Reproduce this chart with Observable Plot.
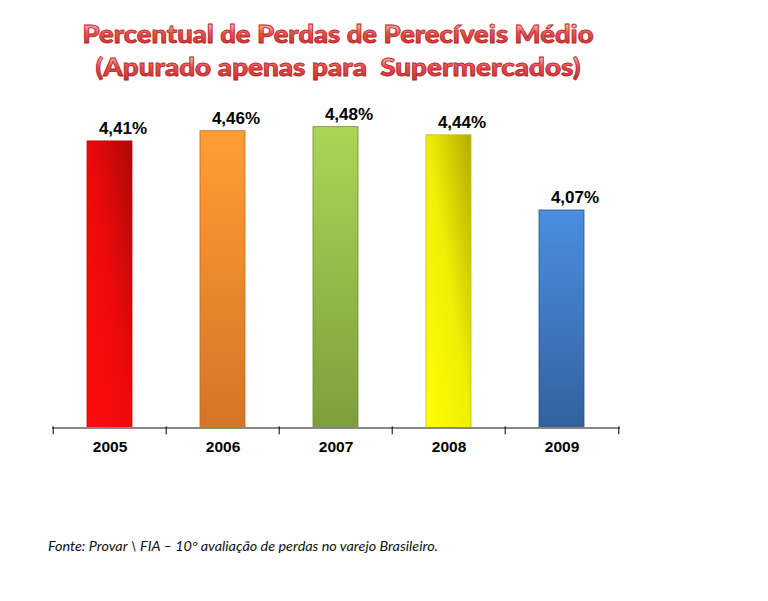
<!DOCTYPE html>
<html><head><meta charset="utf-8">
<script src="https://cdn.jsdelivr.net/npm/d3@7"></script>
<script src="https://cdn.jsdelivr.net/npm/@observablehq/plot@0.6"></script>
<style>
body{margin:0;background:#fff;width:768px;height:601px;overflow:hidden;}
svg{display:block;overflow:visible}
</style></head><body>
<div id="title"></div><div id="chart"></div><div id="caption"></div>
<script>
// ---- data ----
const years = ["2005", "2006", "2007", "2008", "2009"];
const values = [4.41, 4.46, 4.48, 4.44, 4.07];
const valueLabels = ["4,41%", "4,46%", "4,48%", "4,44%", "4,07%"];
const titleLines = ["Percentual de Perdas de Perecíveis Médio", "(Apurado apenas para  Supermercados)"];
const sourceText = "Fonte: Provar \\ FIA \u2013 10\u00ba avaliação de perdas no varejo Brasileiro.";
const yDomain = [3, 4.6];

// ---- styles ----
const barStyles = {
  "2005": {v: [0, 1, 1, 0], stops: [[0, "#ff0c0c"], [0.5, "#ee0a0a"], [1, "#ad0808"]], stroke: "#c00a0a"},
  "2006": {v: [0, 0, 0, 1], stops: [[0, "#ff9d35"], [1, "#d67426"]], stroke: "#bf6824"},
  "2007": {v: [0, 0, 0, 1], stops: [[0, "#acd555"], [1, "#7e9e3d"]], stroke: "#6b8a33"},
  "2008": {v: [0, 1, 1, 0], stops: [[0, "#ffff00"], [0.5, "#f1ef06"], [1, "#b3ab00"]], stroke: "#c8c000"},
  "2009": {v: [0, 0, 0, 1], stops: [[0, "#4a8fe0"], [1, "#33619f"]], stroke: "#2b548a"}
};

const W = 768;
const mL = 52, mR = 148, plotH = 430, mT = 7.3, mB = 97.6;
const step = (W - mL - mR) / years.length;

// ---- title ----
const tsvg = d3.select("#title").append("svg").attr("width", W).attr("height", 95);
const tdefs = tsvg.append("defs");
const tg = tdefs.append("linearGradient").attr("id", "titleFill").attr("x1", 0).attr("y1", 0).attr("x2", 0).attr("y2", 1);
[[0, "#fde0e0"], [0.3, "#f29a9a"], [0.5, "#e55252"], [1, "#c92c2c"]].forEach(([o, c]) => tg.append("stop").attr("offset", o).attr("stop-color", c));
const titleLayout = [{y: 43, len: 511}, {y: 76, len: 485}];
titleLines.forEach((t, i) => {
  const {y, len} = titleLayout[i];
  tsvg.append("text").text(t)
    .attr("x", 338).attr("y", y).attr("text-anchor", "middle")
    .attr("xml:space", "preserve").style("white-space", "pre")
    .attr("textLength", len).attr("lengthAdjust", "spacingAndGlyphs")
    .attr("font-family", "Lato, 'Open Sans', sans-serif").attr("font-weight", "900").attr("font-size", 25)
    .attr("fill", "url(#titleFill)").attr("stroke", "#b82222").attr("stroke-width", 0.8);
});

// ---- chart ----
const data = years.map((year, i) => ({year, value: values[i], label: valueLabels[i]}));
const chart = Plot.plot({
  width: W, height: plotH,
  marginLeft: mL, marginRight: mR, marginTop: mT, marginBottom: mB,
  style: {fontFamily: "'Liberation Sans', Arial, sans-serif", background: "transparent", overflow: "visible"},
  x: {domain: years, paddingInner: 0.6, paddingOuter: 0.3},
  y: {domain: yDomain, axis: null},
  color: {type: "identity"},
  marks: [
    Plot.barY(data, {x: "year", y1: yDomain[0], y2: "value",
      fill: d => `url(#bar${d.year})`, stroke: d => barStyles[d.year].stroke, strokeWidth: 0.8}),
    Plot.ruleY([yDomain[0]], {stroke: "#878787", strokeWidth: 2}),
    Plot.ruleX(years, {x: d => d, y1: yDomain[0], y2: yDomain[0], dx: -step / 2, insetTop: -1, insetBottom: -7, stroke: "#000", strokeWidth: 1}),
    Plot.ruleX(years.slice(-1), {x: d => d, y1: yDomain[0], y2: yDomain[0], dx: step / 2, insetTop: -1, insetBottom: -7, stroke: "#000", strokeWidth: 1}),
    Plot.axisX({tickSize: 0, tickPadding: 13, fontSize: 15.5, fontWeight: "bold", label: null, fill: "#000"}),
    Plot.text(data, {x: "year", y: "value", text: "label", dx: 13, dy: -7, lineAnchor: "bottom",
      fontSize: 17, fontWeight: "bold", fill: "#000"})
  ]
});
const defs = d3.select(chart).insert("defs", ":first-child");
years.forEach(yr => {
  const s = barStyles[yr];
  const g = defs.append("linearGradient").attr("id", "bar" + yr)
    .attr("x1", s.v[0]).attr("y1", s.v[1]).attr("x2", s.v[2]).attr("y2", s.v[3]);
  s.stops.forEach(([o, c]) => g.append("stop").attr("offset", o).attr("stop-color", c));
});
document.getElementById("chart").appendChild(chart);

// ---- caption ----
const csvg = d3.select("#caption").append("svg").attr("width", W).attr("height", 601 - 95 - plotH);
csvg.append("text").text(sourceText)
  .attr("x", 48).attr("y", 26)
  .attr("textLength", 390).attr("lengthAdjust", "spacingAndGlyphs")
  .attr("font-family", "Lato, 'Open Sans', sans-serif").attr("font-style", "italic").attr("font-size", 12.5)
  .attr("fill", "#111");
</script>
</body></html>
